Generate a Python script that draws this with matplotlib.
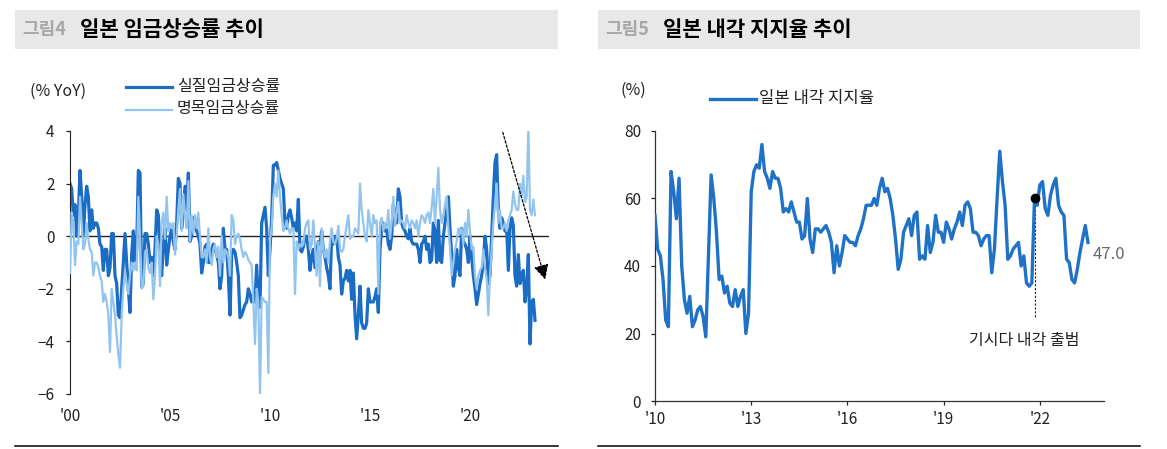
import numpy as np
import matplotlib
matplotlib.use("Agg")
import matplotlib.pyplot as plt
from matplotlib.patches import Rectangle
from matplotlib.lines import Line2D

plt.rcParams['font.family'] = ['Noto Sans CJK KR', 'DejaVu Sans']

# monthly, Jan 2000 - Apr 2023 (% YoY)
real_wage = [
    2.0, 1.8, 0.8, 1.2, 0.0, 0.8, 2.5, 1.5, 0.0, 1.2, 1.9, 1.5, 0.2, 1.0, 0.3, 0.5, 0.5, 0.3, -0.3, -0.4,
    -1.3, -0.5, -0.5, -1.5, -1.2, 0.1, 0.1, -1.5, -1.8, -3.0, -3.1, -2.0, -1.0, 0.1, -1.0, -2.0, -2.9, -0.7, 0.2, -1.0,
    -0.5, 2.5, 2.4, -1.9, -1.8, 0.1, 0.1, -0.3, -1.0, -0.8, -1.5, -0.5, 1.0, 0.8, -0.5, -1.5, -0.3, 0.3, -1.1, -0.5,
    0.0, 0.3, -0.2, -0.5, 0.5, 2.2, 2.0, 0.3, 1.0, 1.9, 1.0, 2.4, -0.2, 0.0, 0.7, 0.4, 0.2, 0.0, -0.3, -1.4,
    -1.0, -0.4, -0.3, -1.0, -1.0, -0.5, -0.3, -0.5, -0.7, -1.0, -2.0, -1.5, 0.3, -0.5, -0.5, -1.5, -3.0, -0.7, -0.5, -0.6,
    -1.0, -1.5, -3.1, -3.0, -2.8, -2.6, -2.5, -2.0, -2.2, -2.5, -2.2, -2.5, -1.1, -2.5, -2.7, 0.5, 0.8, 1.1, 0.3, -1.5,
    -0.5, 0.7, 2.7, 2.7, 2.8, 2.5, 2.2,
    2.0, 1.8, 0.5, 0.3, 0.8, 1.0, 0.7, 0.3, 0.5, 0.2, 1.4, -0.5, -0.6, -0.4, 0.0, 0.0, -0.5, -1.3, -0.8, -0.5,
    -1.2, -0.7, -0.2, -0.3, 0.2, -0.5, -0.8, -1.2, -1.5, -2.0, 0.0, -0.3, 0.0, 0.0, -0.8, -1.1, -2.2, -1.7, -1.6, -1.3,
    -1.7, -1.3, -2.4, -1.4, -3.0, -3.9, -3.0, -1.9, -3.3, -3.5, -3.5, -3.3, -2.0, -2.5, -2.5, -2.5, -2.3, -2.0, -2.9, -0.5,
    0.3, 0.5, 0.2, 0.3, -0.3, -0.5, 0.0, 1.2, 0.7, 0.5, 1.8, 1.5, 0.5, 0.3, 0.2, 0.0, -0.1, 0.3, -0.2, -0.3,
    -0.3, -0.3, -0.5, -1.0, -0.3, -0.2, 0.0, -0.5, -0.3, -1.0, -0.9, 0.5, 0.2, -1.0, 0.6, -0.9, -1.0, 0.0, 0.5, 1.0,
    1.5, 0.3, -0.7, -1.9, -1.5, -0.5, -1.2, -1.5, 0.3, -0.2, -0.3, -0.5, -1.0, 0.0, -0.8, -1.5, -2.0, -2.6, -2.2, -1.8,
    -1.5, -1.0, 0.0, -0.5, -1.8, -1.5, 0.0, 1.5, 2.8, 3.1, 1.0, 0.3, 0.7, 0.5, 0.2, 0.3, -1.3, 0.3, 0.7, 0.4,
    -1.5, -1.9, -0.7, -1.8, -1.5, -1.3, -2.5, -2.0, -0.7, -4.1, -2.5, -2.4, -3.2,
]
nominal_wage = [
    -1.4, 0.9, 0.5, -1.1, -0.2, -0.3, 1.5, 0.5, -0.5, -0.3, 0.5, -0.1, -0.5, -0.6, -1.5, -1.0, -1.0, -1.2, -1.5, -1.7,
    -2.5, -2.2, -2.5, -3.0, -4.4, -2.0, -2.5, -3.0, -3.8, -4.5, -5.0, -3.0, -2.0, -1.3, -1.8, -2.2, -1.5, -1.0, -1.3, -1.0,
    -1.3, 1.5, 0.0, -2.0, -1.9, -0.6, -0.5, -1.2, -1.4, -1.0, -2.4, -1.5, 0.0, -0.3, -1.9, 0.5, 0.9, -0.1, 1.5, 0.2,
    0.5, 0.3, 0.5, -0.7, 0.0, 1.0, 1.8, 0.2, 1.6, 0.8, 0.3, 2.1, -0.2, 0.8, 0.1, 0.8, 0.3, 0.9, 0.0, -0.8,
    -0.8, -0.5, -1.0, 0.3, -0.8, -1.1, -0.5, -0.3, -0.8, -0.4, -1.5, 0.0, -1.0, -0.5, -0.6, -0.8, -1.5, 0.8, 0.6, -0.3,
    0.0, 0.1, -0.1, -0.5, -0.8, -0.6, -0.7, -0.9, -1.0, -1.1, -2.5, -4.1, -2.0, -2.5, -6.1, -2.3, -2.4, -2.5, -2.5, -5.2,
    -0.1, 0.3, 1.5, 2.0, 1.5, 2.5, 1.5,
    0.8, 0.2, 0.3, 0.6, 0.3, 0.1, 0.3, 0.3, -2.2, -0.2, -0.5, -0.3, -0.4, -0.3, 0.3, 0.5, 0.6, -0.5, -0.3, 0.6,
    -0.4, -1.5, -0.2, -1.9, 0.3, -0.5, -0.8, -0.5, -1.0, -0.2, 0.3, -0.2, -0.3, -0.1, 0.4, -0.5, -0.6, -0.5, 0.0, 0.4,
    0.8, -0.1, 0.0, 0.0, 0.3, 0.2, 0.1, 2.0, 1.0, 0.5, 0.0, -0.2, 1.0, 0.5, 0.0, 0.8, 0.5, 0.6, -2.2, 0.5,
    0.7, 0.2, 0.5, 0.3, 1.0, -0.1, 0.5, 1.5, 0.4, 0.9, 1.3, 0.5, 0.6, 0.5, 0.3, 0.8, 0.5, 0.3, 0.6, 0.5,
    0.3, 0.6, 0.0, 0.5, 0.8, 0.7, 0.5, 0.8, 0.9, 0.5, 1.1, 1.8, 0.5, 1.5, 2.6, 1.0, 0.5, 0.8, 1.2, 1.5,
    0.3, -0.4, -1.5, -1.0, -0.5, -0.2, 0.3, 0.1, 0.3, -0.3, 0.5, 0.0, 1.0, 0.2, -0.5, -0.4, -1.5, -2.0, -1.5, -1.3,
    -1.2, -0.5, -1.2, -1.6, -3.0, -1.5, -0.5, 0.5, 1.2, 2.0, 0.5, 1.0, 0.3, 0.3, 0.5, 0.2, 0.6, 0.8, 1.0, 1.7,
    1.2, 1.0, 1.0, 2.0, 1.5, 2.3, 1.3, 1.5, 4.1, 1.0, 0.8, 1.4, 0.8,
]
wage_start = 2000
wage_ticks = [2000, 2005, 2010, 2015, 2020]
wage_ticklabels = ["'00", "'05", "'10", "'15", "'20"]

# monthly, Jan 2010 - Jul 2023 (%)
approval = [
    55, 45, 43, 36, 24, 22, 68, 62, 54, 66, 40, 30, 26, 31, 22, 24, 27, 28, 25, 19,
    43, 67, 60, 50, 36, 37, 32, 34, 29, 28, 33, 28, 31, 33, 20, 26, 62, 68, 70, 69,
    76, 68, 66, 63, 68, 66, 66, 63, 56, 57, 56, 59, 56, 53, 53, 48, 49, 60, 48, 44,
    51, 51, 50, 51, 52, 50, 47, 38, 46, 40, 44, 49, 48, 47, 47, 46, 49,
    51, 54, 58, 58, 58, 60, 58, 63, 66, 62, 63, 60, 55, 48, 39, 42, 50, 52, 54, 49,
    55, 56, 42, 43, 42, 52, 44, 47, 55, 50, 50, 47, 53, 51, 48, 51, 53, 56, 52, 58,
    59, 57, 50, 50, 49, 46, 48, 49, 49, 38, 45, 60, 74, 65, 58, 42, 43, 45, 46, 47,
    40, 43, 35, 34, 35, 60, 58, 64, 65, 57, 55, 61, 64, 66, 58, 56, 55, 42, 41, 36,
    35, 39, 44, 48, 52, 47,
]
approval_start = 2010
approval_ticks = [2010, 2013, 2016, 2019, 2022]
approval_ticklabels = ["'10", "'13", "'16", "'19", "'22"]
kishida_idx = 142
kishida_label = '기시다 내각 출범'

DARK = '#1a6cc4'
LIGHT = '#92c4ee'
LINE = '#1f72c6'
TXT = '#222222'
FS = 11.5

W, H = 1167, 449
fig = plt.figure(figsize=(W / 100, H / 100), dpi=100)


def fx(px):
    return px / W


def fy(py):
    return 1 - py / H


# title bars and bottom rules
for x0, x1, num, title in [(15, 558, '그림4', '일본 임금상승률 추이'),
                           (598, 1140, '그림5', '일본 내각 지지율 추이')]:
    fig.patches.append(Rectangle((fx(x0), fy(49)), fx(x1) - fx(x0), fy(10) - fy(49),
                                 transform=fig.transFigure, facecolor='#e8e8e8',
                                 edgecolor='none', zorder=0))
    fig.text(fx(x0 + 7), fy(30), num, fontsize=13, fontweight='bold',
             color='#a8a8a8', va='center', ha='left')
    fig.text(fx(x0 + 65), fy(30), title, fontsize=15.2, fontweight='bold',
             color='black', va='center', ha='left')
    fig.add_artist(Line2D([fx(x0), fx(x1)], [fy(446), fy(446)],
                          color='black', lw=1.1, transform=fig.transFigure))

# ---- left: wages
ax1 = fig.add_axes([fx(70), fy(394), fx(549) - fx(70), fy(131) - fy(394)])
t1 = wage_start + np.arange(len(real_wage)) / 12
t1n = wage_start + np.arange(len(nominal_wage)) / 12
ax1.axhline(0, color=TXT, lw=1.0, zorder=1)
ax1.plot(t1, real_wage, color=DARK, lw=2.3, zorder=2, solid_joinstyle='round')
ax1.plot(t1n, nominal_wage, color=LIGHT, lw=1.6, zorder=3, solid_joinstyle='round')
ax1.set_xlim(wage_start, wage_start + 23.95)
ax1.set_ylim(-6, 4)
ax1.set_yticks(range(-6, 5, 2))
ax1.set_xticks(wage_ticks)
ax1.set_xticklabels(wage_ticklabels)
for s in ['top', 'right', 'bottom']:
    ax1.spines[s].set_visible(False)
ax1.spines['left'].set_color(TXT)
ax1.tick_params(axis='y', length=3, width=0.9, pad=8, labelsize=FS - 0.5, colors=TXT)
ax1.tick_params(axis='x', length=0, pad=10, labelsize=FS - 0.5, colors=TXT)
ax1.patch.set_visible(False)

# trend arrow
ax1.annotate('', xy=(wage_start + 23.8, -1.75), xytext=(wage_start + 21.6, 4.05),
             arrowprops=dict(arrowstyle='-|>,head_length=0.9,head_width=0.45',
                             color='black', lw=0.9, ls=(0, (2, 1.5))),
             zorder=5, annotation_clip=False)

# legend
fig.text(fx(30), fy(91), '(% YoY)', fontsize=FS, color=TXT, va='center')
fig.add_artist(Line2D([fx(126), fx(172)], [fy(87), fy(87)], color=DARK, lw=2.3))
fig.add_artist(Line2D([fx(126), fx(172)], [fy(110), fy(110)], color=LIGHT, lw=1.6))
fig.text(fx(177), fy(87), '실질임금상승률', fontsize=FS, color=TXT, va='center')
fig.text(fx(177), fy(108), '명목임금상승률', fontsize=FS, color=TXT, va='center')

# ---- right: approval rating
ax2 = fig.add_axes([fx(655), fy(401), fx(1104) - fx(655), fy(131) - fy(401)])
t2 = approval_start + np.arange(len(approval)) / 12
ax2.plot(t2, approval, color=LINE, lw=2.4, zorder=3, solid_joinstyle='round')
ax2.set_xlim(approval_start, approval_start + 14)
ax2.set_ylim(0, 80)
ax2.set_yticks(range(0, 81, 20))
ax2.set_xticks(approval_ticks)
ax2.set_xticklabels(approval_ticklabels)
for s in ['top', 'right']:
    ax2.spines[s].set_visible(False)
for s in ['left', 'bottom']:
    ax2.spines[s].set_color('#333333')
    ax2.spines[s].set_linewidth(0.9)
ax2.tick_params(axis='y', length=3, width=0.9, pad=7, labelsize=FS - 0.5, colors=TXT)
ax2.tick_params(axis='x', length=3, width=0.9, pad=4, labelsize=FS - 0.5, colors=TXT)
ax2.patch.set_visible(False)

kx = t2[kishida_idx]
ky = approval[kishida_idx]
ax2.plot([kx, kx], [ky, 24.6], color=TXT, lw=0.8, ls=(0, (2, 1.5)), zorder=2)
ax2.plot([kx], [ky], 'o', color='black', ms=6, zorder=4)
ax2.text(kx - 0.32, 18, kishida_label, fontsize=FS, color=TXT, ha='center', va='center')
ax2.text(t2[-1] + 0.15, 43.3, f'{approval[-1]:.1f}', fontsize=12, color='#666666',
         ha='left', va='center')

fig.text(fx(620), fy(90), '(%)', fontsize=FS, color=TXT, va='center')
fig.add_artist(Line2D([fx(710), fx(756)], [fy(99), fy(99)], color=LINE, lw=2.4))
fig.text(fx(759), fy(99), '일본 내각 지지율', fontsize=12, color=TXT, va='center')

fig.savefig('out.png', dpi=100)
